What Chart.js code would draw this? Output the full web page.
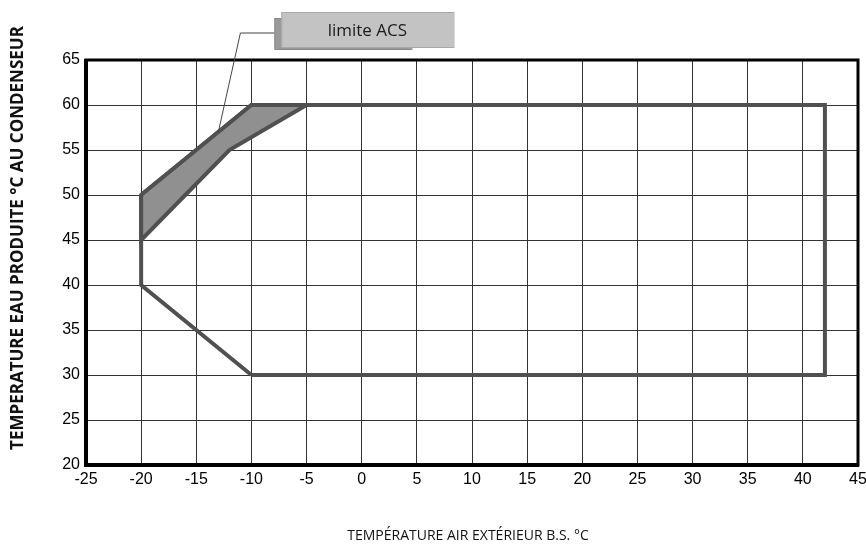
<!DOCTYPE html>
<html>
<head>
<meta charset="utf-8">
<script src="https://cdn.jsdelivr.net/npm/chart.js@4.4.1/dist/chart.umd.min.js"></script>
<style>
  html, body { margin: 0; padding: 0; background: #fff; }
  #wrap { width: 866px; height: 550px; }
</style>
</head>
<body>
<div id="wrap"><canvas id="chartlimites"></canvas></div>
<script>
// Enveloppe de fonctionnement (air extérieur / eau produite)
var envelopeX = [-10, 42, 42, -10, -20, -20, -10];
var envelopeY = [30, 30, 60, 60, 50, 40, 30];

// Zone limite ACS
var acsX = [-20, -10, -5, -12, -20, -20];
var acsY = [50, 60, 60, 55, 45, 50];

// Axes
var xMin = -25, xMax = 45, xStep = 5;
var yMin = 20, yMax = 65, yStep = 5;

// Repère "limite ACS": pointe sur l'enveloppe, coude au-dessus du graphe
var calloutLabel = 'limite ACS';
var calloutTip = { x: -13, y: 57 };
var calloutElbow = { x: -11, y: 68 };

var xTitle = 'TEMPÉRATURE AIR EXTÉRIEUR B.S. °C';
var yTitle = 'TEMPERATURE EAU PRODUITE °C AU CONDENSEUR';

var tickFont = { family: "'Liberation Sans', Arial, sans-serif", size: 16 };

function toPoints(xs, ys) {
    return xs.map(function (x, i) { return { x: x, y: ys[i] }; });
}

var framePlugin = {
    id: 'cadre',
    afterDatasetsDraw: function (chart) {
        var ctx = chart.ctx, a = chart.chartArea;
        ctx.save();
        ctx.strokeStyle = '#000';
        ctx.lineWidth = 3;
        ctx.strokeRect(a.left, a.top, a.right - a.left, a.bottom - a.top);
        ctx.lineWidth = 4;
        ctx.beginPath();
        ctx.moveTo(a.left, a.top - 1);
        ctx.lineTo(a.left, a.bottom);
        ctx.lineTo(a.right + 1, a.bottom);
        ctx.stroke();
        ctx.restore();
    }
};

var calloutPlugin = {
    id: 'repere',
    afterDraw: function (chart) {
        var ctx = chart.ctx;
        var sx = chart.scales.x, sy = chart.scales.y;
        var tx = sx.getPixelForValue(calloutTip.x), ty = sy.getPixelForValue(calloutTip.y);
        var ex = sx.getPixelForValue(calloutElbow.x), ey = sy.getPixelForValue(calloutElbow.y);
        ctx.save();
        // trait de rappel
        ctx.strokeStyle = '#444';
        ctx.lineWidth = 1;
        ctx.beginPath();
        ctx.moveTo(tx, ty);
        ctx.lineTo(ex, ey);
        ctx.lineTo(ex + 35, ey);
        ctx.stroke();
        // boîte arrière
        ctx.fillStyle = '#9a9a9a';
        ctx.fillRect(ex + 34, ey - 15, 137, 31);
        ctx.strokeStyle = '#8a8a8a';
        ctx.strokeRect(ex + 34.5, ey - 14.5, 137, 31);
        // boîte avant
        ctx.fillStyle = '#c3c3c3';
        ctx.fillRect(ex + 41, ey - 21, 172, 35);
        ctx.strokeStyle = '#a8a8a8';
        ctx.strokeRect(ex + 41.5, ey - 20.5, 172, 35);
        ctx.fillStyle = '#1a1a1a';
        ctx.font = '17px "Open Sans"';
        ctx.textAlign = 'center';
        ctx.textBaseline = 'middle';
        ctx.fillText(calloutLabel, ex + 41 + 86, ey - 2);
        ctx.restore();
    }
};

var titlesPlugin = {
    id: 'titres',
    afterDraw: function (chart) {
        var ctx = chart.ctx, a = chart.chartArea;
        ctx.save();
        ctx.fillStyle = '#111';
        ctx.textAlign = 'center';
        ctx.textBaseline = 'middle';
        ctx.font = '14px "Open Sans"';
        ctx.fillText(xTitle, 468, 536);
        ctx.translate(18, 238);
        ctx.rotate(-Math.PI / 2);
        ctx.font = 'bold 17px "Open Sans"';
        ctx.fillText(yTitle, 0, 0);
        ctx.restore();
    }
};

var ctxLim = document.getElementById('chartlimites').getContext('2d');
var chartLimites = new Chart(ctxLim, {
    type: 'scatter',
    data: {
        datasets: [{
            label: 'limite ACS',
            data: toPoints(acsX, acsY),
            showLine: true,
            fill: 'shape',
            backgroundColor: '#909090',
            borderColor: '#505050',
            borderWidth: 4,
            borderJoinStyle: 'miter',
            pointRadius: 0,
            tension: 0
        }, {
            label: 'enveloppe',
            data: toPoints(envelopeX, envelopeY),
            showLine: true,
            fill: false,
            borderColor: '#505050',
            borderWidth: 4,
            borderJoinStyle: 'miter',
            pointRadius: 0,
            tension: 0
        }]
    },
    options: {
        responsive: true,
        maintainAspectRatio: false,
        animation: false,
        events: [],
        layout: { padding: { top: 60, right: 0, left: 0, bottom: 0 } },
        plugins: {
            legend: { display: false },
            tooltip: { enabled: false }
        },
        scales: {
            x: {
                type: 'linear',
                min: xMin,
                max: xMax,
                ticks: {
                    stepSize: xStep,
                    color: '#000',
                    font: tickFont,
                    padding: 5,
                    maxRotation: 0
                },
                grid: { color: '#333', lineWidth: 1, drawTicks: false },
                border: { display: false },
                afterFit: function (scale) {
                    scale.height = 85;
                    scale.paddingRight = 8;
                }
            },
            y: {
                type: 'linear',
                min: yMin,
                max: yMax,
                ticks: {
                    stepSize: yStep,
                    color: '#000',
                    font: tickFont,
                    padding: 6
                },
                grid: { color: '#333', lineWidth: 1, drawTicks: false },
                border: { display: false },
                afterFit: function (scale) { scale.width = 86; }
            }
        }
    },
    plugins: [framePlugin, calloutPlugin, titlesPlugin]
});
</script>
</body>
</html>
